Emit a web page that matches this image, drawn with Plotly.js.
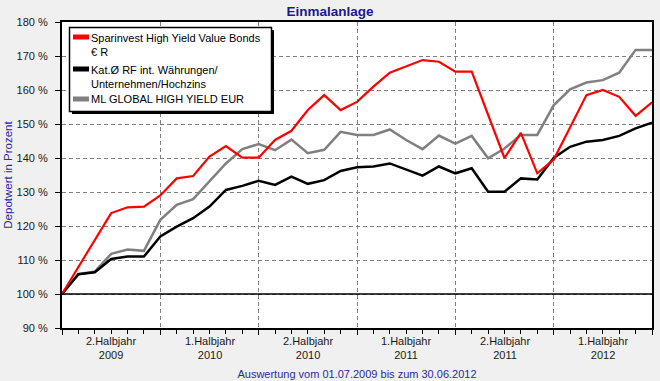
<!DOCTYPE html>
<html>
<head>
<meta charset="utf-8">
<script src="https://cdn.plot.ly/plotly-3.0.1.min.js"></script>
<style>
html,body{margin:0;padding:0;background:#f0f0f0;}
#chart{width:660px;height:381px;}
</style>
</head>
<body>
<div id="chart"></div>
<script>
// Month index from 07.2009 (0) to 06.2012 end (36)
const months = [0,1,2,3,4,5,6,7,8,9,10,11,12,13,14,15,16,17,18,19,20,21,22,23,24,25,26,27,28,29,30,31,32,33,34,35,36];

const seriesNames = [
  'Sparinvest High Yield Value Bonds<br>€ R',
  'Kat.Ø RF int. Währungen/<br>Unternehmen/Hochzins',
  'ML GLOBAL HIGH YIELD EUR'
];
const seriesColors = ['#ff0000', '#000000', '#808080'];

const sparinvest = [100,108,116,123.8,125.5,125.7,129,134,134.7,140.4,143.5,140.1,140.1,145.3,148,154.1,158.5,154.1,156.5,161,165.1,166.9,168.8,168.3,165.4,165.4,152.5,140,147.4,135.5,139.5,149,158.5,160,158,152.4,156.4];
const katRF = [100,105.8,106.4,110.3,111,111,116.9,119.8,122.3,125.7,130.6,131.8,133.3,132.1,134.5,132.4,133.5,136.2,137.3,137.5,138.4,136.5,134.8,137.5,135.5,137,130.1,130.1,134,133.7,140,143.3,144.8,145.3,146.5,148.7,150.4];
const mlGlobal = [100,105.8,106.6,111.8,113.1,112.7,121.8,126.2,127.9,133,138.4,142.6,144.1,142.3,145.4,141.4,142.4,147.7,146.8,146.8,148.4,145.3,142.6,146.6,144.2,146.5,139.9,142.8,146.8,146.8,155.5,160.2,162.2,162.9,165.1,171.8,171.8];

const halfYearTicks = [0,6,12,18,24,30,36];
const halfYearCenters = [3,9,15,21,27,33];
const halfYearLabels = ['2.Halbjahr<br>2009','1.Halbjahr<br>2010','2.Halbjahr<br>2010','1.Halbjahr<br>2011','2.Halbjahr<br>2011','1.Halbjahr<br>2012'];

const yTicks = [90,100,110,120,130,140,150,160,170,180];
const yTickLabels = ['90 %','100 %','110 %','120 %','130 %','140 %','150 %','160 %','170 %','180 %'];

const FONT = 'Liberation Sans, Arial, sans-serif';

// plot area geometry in px (used only for the hand-drawn legend box)
const PL = 62, PT = 22, PW = 590, PH = 306;
const px = v => (v - PL) / PW;
const py = v => (PT + PH - v) / PH;

const traces = [
  {x: months, y: mlGlobal, name: seriesNames[2], mode: 'lines', line: {color: seriesColors[2], width: 2.5}, showlegend: false},
  {x: months, y: katRF, name: seriesNames[1], mode: 'lines', line: {color: seriesColors[1], width: 2.5}, showlegend: false},
  {x: months, y: sparinvest, name: seriesNames[0], mode: 'lines', line: {color: seriesColors[0], width: 2.2}, showlegend: false}
];

const annotations = halfYearCenters.map((m, i) => ({
  x: m, xref: 'x', y: 0, yref: 'paper', yanchor: 'top', yshift: -5,
  text: halfYearLabels[i], showarrow: false,
  font: {family: FONT, size: 11, color: '#1a1a1a'}
}));

// legend (custom, to match the short thick swatches of the original)
const legendRows = [37, 69, 99];
const shapes = [
  {type: 'line', xref: 'paper', x0: 0, x1: 1, yref: 'y', y0: yTicks[1], y1: yTicks[1], line: {color: '#000000', width: 1.5}, layer: 'above'},
  {type: 'rect', xref: 'paper', yref: 'paper', x0: px(72), x1: px(274), y0: py(30), y1: py(114), fillcolor: '#000000', line: {width: 0}, layer: 'above'},
  {type: 'rect', xref: 'paper', yref: 'paper', x0: px(69.5), x1: px(271.5), y0: py(27.5), y1: py(111.5), fillcolor: '#ffffff', line: {color: '#000000', width: 1.5}, layer: 'above'}
];
legendRows.forEach((r, i) => {
  shapes.push({type: 'line', xref: 'paper', yref: 'paper', x0: px(73), x1: px(89), y0: py(r), y1: py(r), line: {color: seriesColors[i], width: 5}, layer: 'above'});
  annotations.push({
    xref: 'paper', yref: 'paper', x: px(89), y: py(r - 7.5), xanchor: 'left', yanchor: 'top',
    text: seriesNames[i], showarrow: false, align: 'left',
    font: {family: FONT, size: 11, color: '#000000'}
  });
});

const layout = {
  width: 660, height: 381,
  paper_bgcolor: '#f0f0f0', plot_bgcolor: '#ffffff',
  margin: {l: 62, r: 8, t: 22, b: 53},
  font: {family: FONT, size: 11, color: '#1a1a1a'},
  title: {
    text: 'Einmalanlage',
    font: {family: FONT, size: 13.5, color: '#1a1a8c', weight: 'bold'},
    x: 0.5, xanchor: 'center', y: 1 - 11/381, yanchor: 'middle', yref: 'container'
  },
  showlegend: false,
  xaxis: {
    range: [0, 36], fixedrange: true,
    tickmode: 'array', tickvals: halfYearTicks, showticklabels: false,
    ticks: 'outside', ticklen: 5, tickwidth: 1, tickcolor: '#000000',
    showgrid: true, gridcolor: '#808080', gridwidth: 1, griddash: '4px,3px',
    minor: {dtick: 1, tick0: 0, ticks: 'outside', ticklen: 4, tickwidth: 1, tickcolor: '#000000', showgrid: false},
    showline: true, linecolor: '#000000', linewidth: 2, mirror: true,
    zeroline: false,
    title: {text: 'Auswertung vom 01.07.2009 bis zum 30.06.2012', font: {family: FONT, size: 11, color: '#2a2aa0'}, standoff: 36}
  },
  yaxis: {
    range: [90, 180], fixedrange: true,
    tickmode: 'array', tickvals: yTicks, ticktext: yTickLabels,
    ticks: 'outside', ticklen: 5, tickwidth: 1, tickcolor: '#000000',
    ticklabelstandoff: 5,
    showgrid: true, gridcolor: '#808080', gridwidth: 1, griddash: '4px,3px',
    showline: true, linecolor: '#000000', linewidth: 2, mirror: true,
    zeroline: false,
    title: {text: 'Depotwert in Prozent', font: {family: FONT, size: 11.5, color: '#2a2aa0'}, standoff: 2}
  },
  shapes: shapes,
  annotations: annotations
};

Plotly.newPlot('chart', traces, layout, {displayModeBar: false, staticPlot: true});
</script>
</body>
</html>
